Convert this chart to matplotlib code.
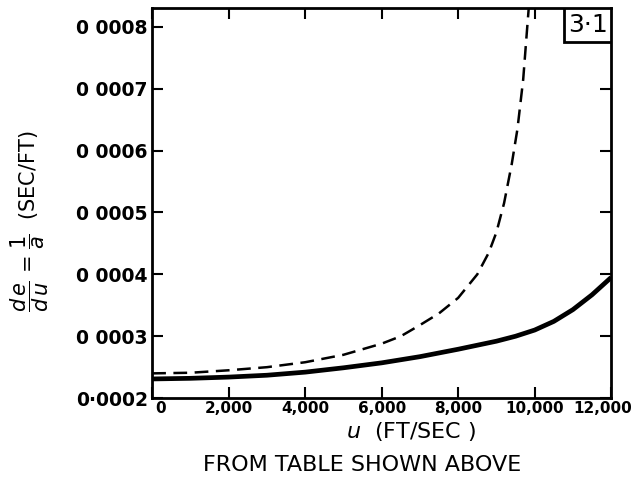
import matplotlib
matplotlib.use('Agg')
import matplotlib.pyplot as plt
from matplotlib.ticker import FixedLocator
from matplotlib.patches import Rectangle
from matplotlib.transforms import ScaledTranslation

# velocity u (ft/sec) and de/du = 1/a (sec/ft)
u_solid = [0, 1000, 2000, 3000, 4000, 5000, 6000, 7000, 8000, 9000, 9500, 10000,
           10500, 11000, 11500, 12000]
v_solid = [0.000231, 0.000232, 0.000234, 0.000237, 0.000242, 0.000249, 0.000257, 0.000267,
           0.000279, 0.000292, 0.000300, 0.000310, 0.000324, 0.000343, 0.000367, 0.000395]

u_dash = [0, 1000, 2000, 3000, 4000, 5000, 6000, 6500, 7000, 7500, 8000, 8500, 8800,
          9000, 9200, 9400, 9550, 9700, 9800, 9870]
v_dash = [0.000240, 0.000241, 0.000245, 0.000250, 0.000258, 0.000270, 0.000288, 0.000300,
          0.000318, 0.000337, 0.000362, 0.000400, 0.000435, 0.000468, 0.000515, 0.000578,
          0.000635, 0.000715, 0.000795, 0.000850]

xticks = [0, 2000, 4000, 6000, 8000, 10000, 12000]
xtick_labels = ['0', '2,000', '4,000', '6,000', '8,000', '10,000', '12,000']
yticks = [0.0002, 0.0003, 0.0004, 0.0005, 0.0006, 0.0007, 0.0008]
ytick_labels = ['0·0002', '0 0003', '0 0004', '0 0005', '0 0006', '0 0007', '0 0008']

fig = plt.figure(figsize=(6.34, 4.82), dpi=100)
ax = fig.add_axes([0.240, 0.174, 0.724, 0.809])

ax.plot(u_solid, v_solid, color='black', lw=3.4, solid_capstyle='butt')
ax.plot(u_dash, v_dash, color='black', lw=1.8, dashes=(5.5, 3))

ax.set_xlim(0, 12000)
ax.set_ylim(0.0002, 0.00083)
ax.xaxis.set_major_locator(FixedLocator(xticks))
ax.set_xticklabels(xtick_labels)
ax.yaxis.set_major_locator(FixedLocator(yticks))
ax.set_yticklabels(ytick_labels)

ax.tick_params(direction='in', length=8, width=1.5, top=True, right=True)
ax.tick_params(axis='y', labelsize=13.5, pad=3)
ax.tick_params(axis='x', labelsize=11, pad=2)
for lab in ax.get_xticklabels() + ax.get_yticklabels():
    lab.set_fontweight('bold')
# nudge the end x labels like the original lettering
first = ax.get_xticklabels()[0]
first.set_transform(first.get_transform() + ScaledTranslation(6 / 72, 0, fig.dpi_scale_trans))
last = ax.get_xticklabels()[-1]
last.set_transform(last.get_transform() + ScaledTranslation(-6 / 72, 0, fig.dpi_scale_trans))
for s in ax.spines.values():
    s.set_linewidth(2)

ax.set_ylabel(r'$\dfrac{d\,e}{d\,u}$ = $\dfrac{1}{a}$  (SEC/FT)', fontsize=15)
ax.yaxis.set_label_coords(-0.22, 0.455)
ax.set_xlabel(r'$\mathit{u}$  (FT/SEC )', fontsize=16)
ax.xaxis.set_label_coords(0.565, -0.055)

fig.text(0.571, 0.035, 'FROM TABLE SHOWN ABOVE', ha='center', va='center', fontsize=16)

# "3·1" box in the top right corner
ax.add_patch(Rectangle((0.898, 0.913), 0.102, 0.087, transform=ax.transAxes,
                       facecolor='white', edgecolor='black', lw=2, zorder=5))
ax.text(0.949, 0.956, '3·1', transform=ax.transAxes, ha='center', va='center',
        fontsize=18, zorder=6)

fig.savefig('out.png', dpi=100)
